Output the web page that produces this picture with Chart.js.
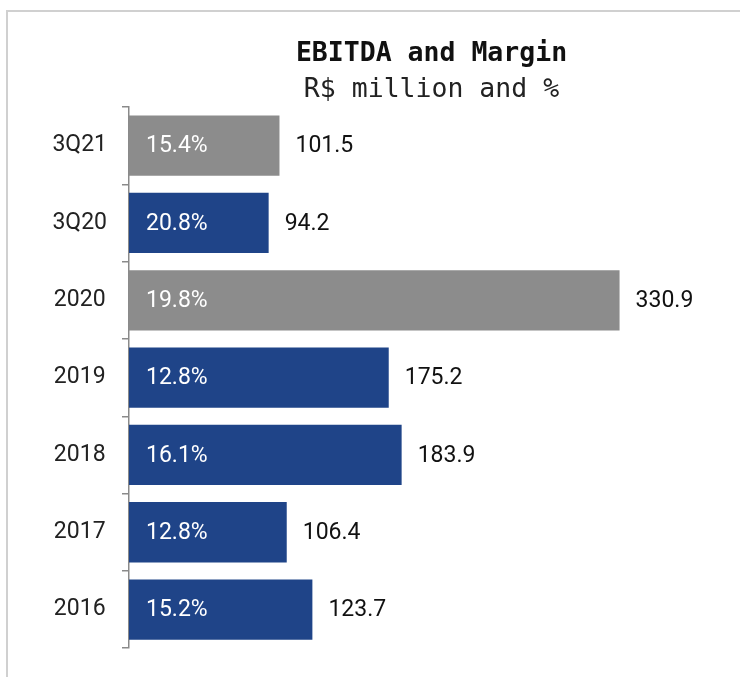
<!DOCTYPE html>
<html>
<head>
<meta charset="utf-8">
<script src="https://cdn.jsdelivr.net/npm/chart.js@4/dist/chart.umd.min.js"></script>
<style>
  html, body { margin: 0; padding: 0; background: #fff; overflow: hidden; }
  #wrap { position: relative; width: 740px; height: 677px; overflow: hidden; }
  #frame { position: absolute; left: 6px; top: 10px; width: 800px; height: 800px; border: 2px solid #d0d0d0; }
  #chart { position: absolute; left: 0; top: 0; }
</style>
</head>
<body>
<div id="wrap">
  <div id="frame"></div>
  <canvas id="chart" width="740" height="677"></canvas>
</div>
<script>
// --- Data ---
const categories = ['3Q21', '3Q20', '2020', '2019', '2018', '2017', '2016'];
const ebitda = [101.5, 94.2, 330.9, 175.2, 183.9, 106.4, 123.7];
const margins = ['15.4%', '20.8%', '19.8%', '12.8%', '16.1%', '12.8%', '15.2%'];
const highlighted = [true, false, true, false, false, false, false];

const titleText = 'EBITDA and Margin';
const subtitleText = 'R$ million and %';

const BLUE = '#1f4488';
const GRAY = '#8c8c8c';
const LABEL_FONT = '23px Roboto, "Noto Sans", sans-serif';

// title + subtitle centred over the plot area
const titlePlugin = {
  id: 'centredTitle',
  afterDraw(chart) {
    const { ctx, chartArea } = chart;
    const cx = (chartArea.left + chartArea.right) / 2 + 6;
    ctx.save();
    ctx.textAlign = 'center';
    ctx.textBaseline = 'middle';
    ctx.fillStyle = '#111';
    ctx.font = 'bold 26.5px "DejaVu Sans Mono", "Liberation Mono", monospace';
    ctx.fillText(titleText, cx, 54);
    ctx.fillStyle = '#222';
    ctx.font = '26.5px "DejaVu Sans Mono", "Liberation Mono", monospace';
    ctx.fillText(subtitleText, cx, 90);
    ctx.restore();
  }
};

// margin inside bar, value after bar end
const labelPlugin = {
  id: 'barLabels',
  afterDatasetsDraw(chart) {
    const { ctx } = chart;
    const meta = chart.getDatasetMeta(0);
    ctx.save();
    ctx.font = LABEL_FONT;
    ctx.textBaseline = 'middle';
    ctx.textAlign = 'left';
    meta.data.forEach((bar, i) => {
      ctx.fillStyle = '#ffffff';
      ctx.fillText(margins[i], bar.base + 17, bar.y + 1);
      ctx.fillStyle = '#111';
      ctx.fillText(ebitda[i].toFixed(1), bar.x + 16, bar.y + 1);
    });
    ctx.restore();
  }
};

new Chart(document.getElementById('chart'), {
  type: 'bar',
  data: {
    labels: categories,
    datasets: [{
      data: ebitda,
      backgroundColor: highlighted.map(h => h ? GRAY : BLUE),
      borderWidth: 0,
      barPercentage: 0.78,
      categoryPercentage: 1
    }]
  },
  options: {
    indexAxis: 'y',
    responsive: false,
    animation: false,
    layout: { padding: { top: 107, right: 18, bottom: 17, left: 0 } },
    plugins: {
      legend: { display: false },
      tooltip: { enabled: false },
      title: { display: false }
    },
    scales: {
      x: {
        display: false,
        min: 0,
        max: 400
      },
      y: {
        afterFit: (scale) => { scale.width = 129; },
        grid: {
          offset: true,
          drawOnChartArea: false,
          drawTicks: true,
          tickLength: 7,
          color: '#8a8a8a',
          lineWidth: 1.5
        },
        border: { display: true, color: '#8a8a8a', width: 1.5 },
        ticks: {
          crossAlign: 'center',
          padding: 15,
          color: '#222',
          font: { family: 'Roboto, "Noto Sans", sans-serif', size: 23 }
        }
      }
    }
  },
  plugins: [titlePlugin, labelPlugin]
});
</script>
</body>
</html>
